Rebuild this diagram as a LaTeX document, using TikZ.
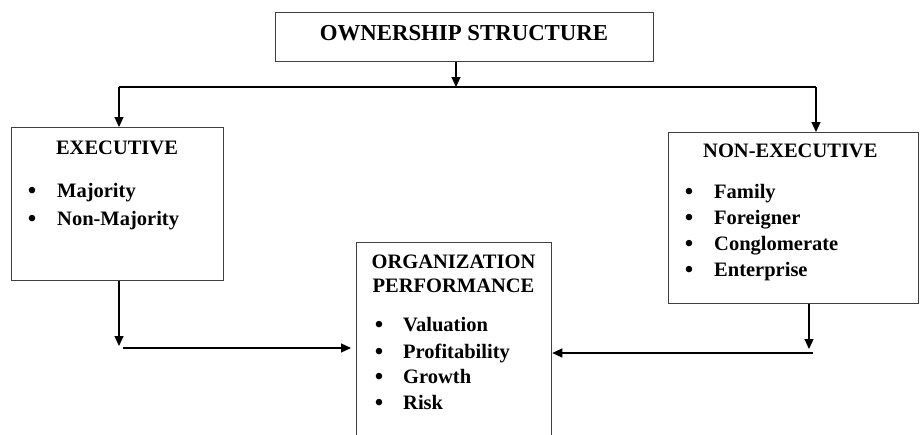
\documentclass[tikz,border=0pt]{standalone}
\usepackage{fontspec}
\setmainfont{Liberation Serif}
\usetikzlibrary{arrows.meta}
\tikzset{
  box/.style={draw=black!75, line width=1.3pt, inner sep=0pt, anchor=north west},
  conn/.style={draw=black, line width=1.2pt},
  arr/.style={conn, -{Triangle[length=10pt,width=9pt]}},
  txt/.style={inner sep=0pt, anchor=base west, font=\bfseries\fontsize{20.5}{24}\selectfont},
  ttl/.style={inner sep=0pt, anchor=base, font=\bfseries\fontsize{20.5}{24}\selectfont},
  bul/.style={inner sep=0pt, anchor=base, yshift=-2pt, font=\fontsize{27}{30}\selectfont}
}
\begin{document}
\begin{tikzpicture}[x=1pt,y=-1pt]
\useasboundingbox (0,0) rectangle (921,434);
% boxes
\node[box, minimum width=378pt, minimum height=49pt] (own) at (275,12) {};
\node[box, minimum width=212pt, minimum height=153pt] (exec) at (11,127) {};
\node[box, minimum width=250pt, minimum height=171pt] (nonexec) at (668,132) {};
\node[box, minimum width=195pt, minimum height=210pt] (org) at (356,242) {};
% texts
\node[inner sep=0pt, anchor=base, font=\bfseries\fontsize{22.8}{26}\selectfont] (t0) at (464,40) {OWNERSHIP STRUCTURE};
\node[ttl] (t1) at (117,154) {EXECUTIVE};
\node[bul] (b11) at (32,197) {•};
\node[txt] (i11) at (57,197) {Majority};
\node[bul] (b12) at (32,225) {•};
\node[txt] (i12) at (57,225) {Non-Majority};
\node[txt] (t2) at (703,157) {NON-EXECUTIVE};
\node[bul] (b21) at (689,198) {•};
\node[txt] (i21) at (714,198) {Family};
\node[bul] (b22) at (689,224) {•};
\node[txt] (i22) at (714,224) {Foreigner};
\node[bul] (b23) at (689,250) {•};
\node[txt] (i23) at (714,250) {Conglomerate};
\node[bul] (b24) at (689,276) {•};
\node[txt] (i24) at (714,276) {Enterprise};
\node[ttl] (t3a) at (453.5,268) {ORGANIZATION};
\node[ttl] (t3b) at (453.5,292) {PERFORMANCE};
\node[bul] (b31) at (379,331) {•};
\node[txt] (i31) at (403,331) {Valuation};
\node[bul] (b32) at (379,358) {•};
\node[txt] (i32) at (403,358) {Profitability};
\node[bul] (b33) at (379,383) {•};
\node[txt] (i33) at (403,383) {Growth};
\node[bul] (b34) at (379,409) {•};
\node[txt] (i34) at (403,409) {Risk};
% connector points
\coordinate (j) at (456,87);
\coordinate (jl) at (119,87);
\coordinate (jr) at (816,87);
\coordinate (el) at (119,346);
\coordinate (el2) at (123,348);
\coordinate (er) at (809,349);
\coordinate (er2) at (813,353);
% connectors
\draw[arr] (own.south -| j) -- (j);
\draw[conn] (jl) -- (jr);
\draw[arr] (jl) -- (exec.north -| jl);
\draw[arr] (jr) -- (nonexec.north -| jr);
\draw[arr] (exec.south -| el) -- (el);
\draw[arr, shorten >=5pt] (el2) -- (org.west |- el2);
\draw[arr] (nonexec.south -| er) -- (er);
\draw[arr] (er2) -- (org.east |- er2);
\end{tikzpicture}
\end{document}
